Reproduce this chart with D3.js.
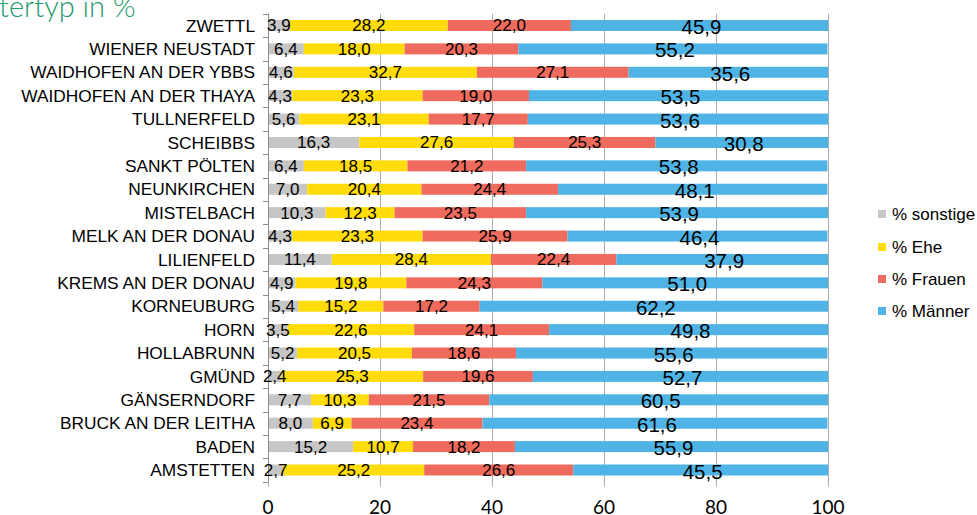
<!DOCTYPE html>
<html><head><meta charset="utf-8">
<script src="https://cdn.jsdelivr.net/npm/d3@7"></script>
<style>body{margin:0;background:#fff;}svg{display:block;}</style>
</head><body><svg id="c" width="977" height="515"></svg>
<script>
const categories = ["ZWETTL","WIENER NEUSTADT","WAIDHOFEN AN DER YBBS","WAIDHOFEN AN DER THAYA","TULLNERFELD","SCHEIBBS","SANKT PÖLTEN","NEUNKIRCHEN","MISTELBACH","MELK AN DER DONAU","LILIENFELD","KREMS AN DER DONAU","KORNEUBURG","HORN","HOLLABRUNN","GMÜND","GÄNSERNDORF","BRUCK AN DER LEITHA","BADEN","AMSTETTEN"];
const sonstige = [3.9,6.4,4.6,4.3,5.6,16.3,6.4,7.0,10.3,4.3,11.4,4.9,5.4,3.5,5.2,2.4,7.7,8.0,15.2,2.7];
const ehe      = [28.2,18.0,32.7,23.3,23.1,27.6,18.5,20.4,12.3,23.3,28.4,19.8,15.2,22.6,20.5,25.3,10.3,6.9,10.7,25.2];
const frauen   = [22.0,20.3,27.1,19.0,17.7,25.3,21.2,24.4,23.5,25.9,22.4,24.3,17.2,24.1,18.6,19.6,21.5,23.4,18.2,26.6];
const maenner  = [45.9,55.2,35.6,53.5,53.6,30.8,53.8,48.1,53.9,46.4,37.9,51.0,62.2,49.8,55.6,52.7,60.5,61.6,55.9,45.5];
const seriesNames = ["% sonstige","% Ehe","% Frauen","% Männer"];
const seriesColors = ["#c6c6c6","#ffdc0a","#ef6b5d","#4fb4e5"];
const xTicks = [0,20,40,60,80,100];
const titleText = "tertyp in %";

const svg = d3.select("#c");
const plotTop = 13.8, plotBot = 481.7;
const x = d3.scaleLinear().domain([0,100]).range([268,828]);
const yb = d3.scaleBand().domain(categories).range([plotTop,plotBot]);
const barH = 11;

// title
svg.append("text").attr("x",-1).attr("y",16.5).attr("fill","#1f9a6e")
  .style("font-family","Lato, 'Open Sans', sans-serif").style("font-weight","300").style("font-size","29px")
  .text(titleText);

// gridlines
svg.append("g").selectAll("line").data(xTicks).join("line")
  .attr("x1",d=>Math.round(x(d))+0.5).attr("x2",d=>Math.round(x(d))+0.5).attr("y1",plotTop).attr("y2",plotBot+5)
  .attr("stroke","#adadad").attr("stroke-width",1);

// stacked data
const allSeries = [sonstige, ehe, frauen, maenner];
const rows = categories.map((c,i)=>{let s=0; return allSeries.map((arr,k)=>{const v=arr[i]; const o={cat:c,k,v,x0:s,x1:Math.min(100,s+v)}; s+=v; return o;});}).flat();
const cy = c => yb(c)+yb.bandwidth()/2;

svg.append("g").selectAll("rect").data(rows).join("rect")
  .attr("x",d=>x(d.x0)).attr("width",d=>x(d.x1)-x(d.x0))
  .attr("y",d=>cy(d.cat)-barH/2).attr("height",barH)
  .attr("fill",d=>seriesColors[d.k]);

// left axis
const ax = svg.append("g");
ax.append("line").attr("x1",268.5).attr("x2",268.5).attr("y1",plotTop).attr("y2",plotBot).attr("stroke","#8c8c8c");
const bounds = categories.map(c=>yb(c)).concat([plotBot]);
ax.selectAll("line.t").data(bounds).join("line").attr("class","t")
  .attr("x1",263).attr("x2",268.5).attr("y1",d=>Math.round(d)+0.5).attr("y2",d=>Math.round(d)+0.5).attr("stroke","#8c8c8c");

// category labels
svg.append("g").selectAll("text").data(categories).join("text")
  .attr("x",255).attr("y",d=>cy(d)+6.2).attr("text-anchor","end")
  .style("font-family","'Liberation Sans', Arial, sans-serif").style("font-size","17.3px").attr("fill","#000")
  .text(d=>d);

// value labels
const fmt = v=>v.toFixed(1).replace(".",",");
svg.append("g").selectAll("text").data(rows).join("text")
  .attr("x",d=>x((d.x0+d.x1)/2)+(d.k===3?2:0))
  .attr("y",d=>cy(d.cat)+(d.k===3?8.5:6))
  .attr("text-anchor","middle")
  .style("font-family","'Liberation Sans', Arial, sans-serif").style("font-size",d=>d.k===3?"20.5px":"17px")
  .attr("fill","#000").text(d=>fmt(d.v));

// x tick labels
svg.append("g").selectAll("text").data(xTicks).join("text")
  .attr("x",d=>x(d)).attr("y",514).attr("text-anchor","middle")
  .style("font-family","Lato, Carlito, sans-serif").style("font-size","19px").attr("fill","#000")
  .text(d=>d);

// legend
const lg = svg.append("g");
const ly = [214,247,279,311];
seriesNames.forEach((n,i)=>{
  lg.append("rect").attr("x",878).attr("y",ly[i]-4).attr("width",8).attr("height",8).attr("fill",seriesColors[i]);
  lg.append("text").attr("x",892).attr("y",ly[i]+6).style("font-family","'Liberation Sans', Arial, sans-serif")
    .style("font-size","17px").attr("fill","#000").text(n);
});
</script></body></html>
